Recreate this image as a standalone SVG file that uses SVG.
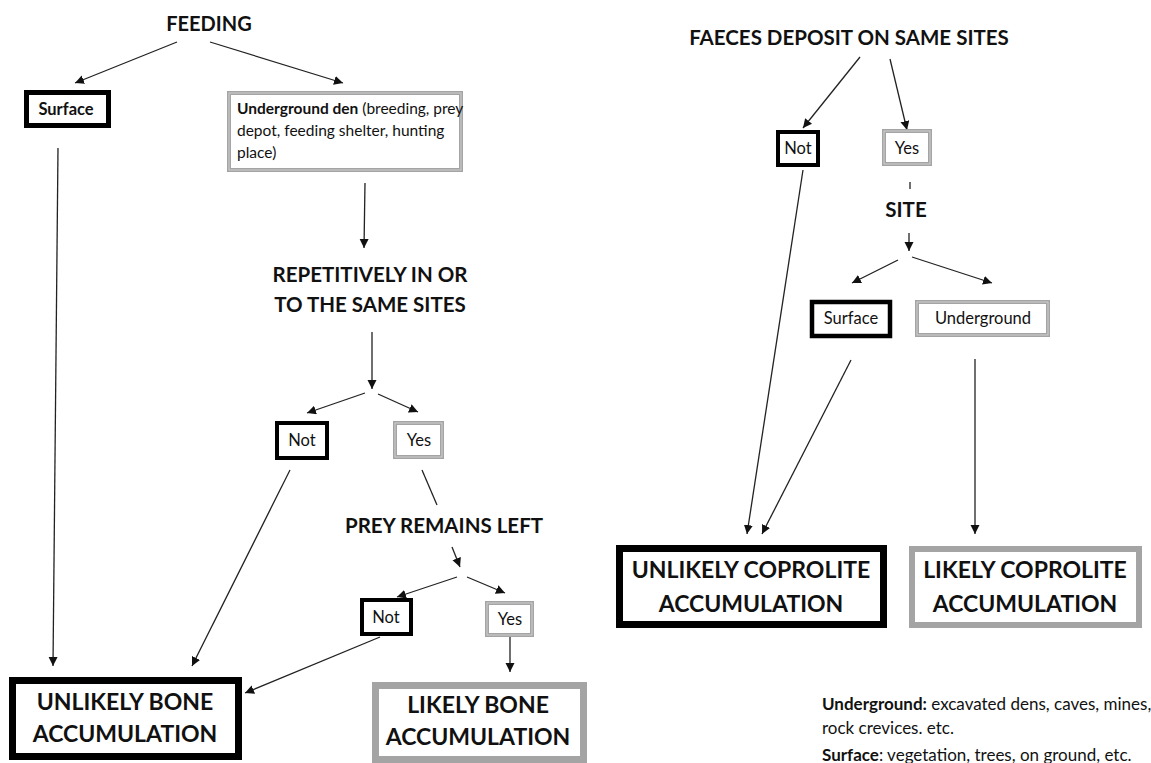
<svg xmlns="http://www.w3.org/2000/svg" width="1151" height="763" viewBox="0 0 1151 763">
<defs>
<marker id="ah" markerUnits="userSpaceOnUse" markerWidth="10" markerHeight="10" refX="9" refY="4.5" orient="auto">
<path d="M0,0 L9,4.5 L0,9 z" fill="#111"/>
</marker>
<style>
text{font-family:Lato,"Liberation Sans",sans-serif;fill:#111}
.b{font-weight:bold}
.big{font-size:23px;font-weight:bold;text-anchor:middle}
.hd{font-size:20.5px;font-weight:bold;text-anchor:middle}
.sm{font-size:16.5px;text-anchor:middle}
.blk{fill:#fff;stroke:#000}
.gry{fill:#fff;stroke:#a4a4a4}
.in{fill:none;stroke:#d0d0d0;stroke-width:1}
#conn line{stroke:#222;stroke-width:1.3}
#conn line.a{marker-end:url(#ah)}
</style>
</defs>
<rect width="1151" height="763" fill="#fff"/>

<g id="conn">
<line class="a" x1="177" y1="42" x2="75" y2="83"/>
<line class="a" x1="210" y1="42" x2="343" y2="83"/>
<line class="a" x1="58" y1="148" x2="53" y2="666"/>
<line class="a" x1="365" y1="183" x2="364" y2="248"/>
<line class="a" x1="372" y1="332" x2="372" y2="389"/>
<line class="a" x1="365" y1="393" x2="307" y2="413"/>
<line class="a" x1="378" y1="394" x2="418" y2="412"/>
<line class="a" x1="290" y1="470" x2="192" y2="666"/>
<line x1="422" y1="470" x2="437" y2="505"/>
<line class="a" x1="452" y1="547" x2="460" y2="567"/>
<line class="a" x1="457" y1="577" x2="397" y2="597"/>
<line class="a" x1="467" y1="577" x2="505" y2="593"/>
<line class="a" x1="380" y1="637" x2="245" y2="693"/>
<line class="a" x1="510" y1="637" x2="510" y2="672"/>
<line class="a" x1="860" y1="57" x2="803" y2="128"/>
<line class="a" x1="890" y1="59" x2="907" y2="130"/>
<line x1="910" y1="182" x2="910" y2="189"/>
<line class="a" x1="909" y1="233" x2="909" y2="251"/>
<line class="a" x1="898" y1="260" x2="852" y2="283"/>
<line class="a" x1="912" y1="257" x2="992" y2="283"/>
<line class="a" x1="803" y1="170" x2="747" y2="534"/>
<line class="a" x1="851" y1="360" x2="762" y2="534"/>
<line class="a" x1="975" y1="359" x2="975" y2="534"/>
</g>

<g id="feeding"><text class="hd" x="209" y="31" style="font-size:20px">FEEDING</text></g>

<g id="surface-left">
<rect class="blk" x="26.5" y="92.5" width="82" height="33" stroke-width="5"/>
<text class="b" x="66" y="115" style="font-size:16.5px" text-anchor="middle">Surface</text>
</g>

<g id="underground-den">
<rect class="gry" x="229" y="93" width="232" height="77" stroke-width="4"/>
<rect class="in" x="229" y="93" width="232" height="77"/>
<text x="237" y="114" style="font-size:15.5px"><tspan class="b">Underground den</tspan> (breeding, prey</text>
<text x="237" y="136" style="font-size:15.5px">depot,  feeding shelter, hunting</text>
<text x="237" y="158" style="font-size:15.5px">place)</text>
</g>

<g id="repetitively">
<text class="hd" x="370" y="282">REPETITIVELY IN OR</text>
<text class="hd" x="370" y="312">TO THE SAME SITES</text>
</g>

<g id="not1">
<rect class="blk" x="277" y="423" width="50" height="35" stroke-width="4"/>
<text class="sm" x="302" y="446">Not</text>
</g>
<g id="yes1">
<rect class="gry" x="395" y="423" width="47" height="34" stroke-width="4"/>
<rect class="in" x="395" y="423" width="47" height="34"/>
<text class="sm" x="419" y="446">Yes</text>
</g>

<g id="prey-remains"><text class="hd" x="444" y="533">PREY REMAINS LEFT</text></g>

<g id="not2">
<rect class="blk" x="362" y="600" width="49" height="34" stroke-width="4"/>
<text class="sm" x="386" y="623">Not</text>
</g>
<g id="yes2">
<rect class="gry" x="487" y="603" width="45" height="32" stroke-width="4"/>
<rect class="in" x="487" y="603" width="45" height="32"/>
<text class="sm" x="510" y="625">Yes</text>
</g>

<g id="unlikely-bone">
<rect class="blk" x="12.5" y="680.5" width="226" height="76" stroke-width="7"/>
<text class="big" x="125" y="710">UNLIKELY BONE</text>
<text class="big" x="125" y="742">ACCUMULATION</text>
</g>
<g id="likely-bone">
<rect class="gry" x="375.5" y="685.5" width="208" height="74" stroke-width="7"/>
<text class="big" x="478" y="713">LIKELY BONE</text>
<text class="big" x="478" y="745">ACCUMULATION</text>
</g>

<g id="faeces"><text class="hd" x="849" y="45">FAECES DEPOSIT ON SAME SITES</text></g>

<g id="not3">
<rect class="blk" x="778" y="132" width="40" height="33" stroke-width="4"/>
<text class="sm" x="798" y="154">Not</text>
</g>
<g id="yes3">
<rect class="gry" x="884" y="131" width="46" height="33" stroke-width="4"/>
<rect class="in" x="884" y="131" width="46" height="33"/>
<text class="sm" x="907" y="154">Yes</text>
</g>

<g id="site"><text class="hd" x="906" y="217">SITE</text></g>

<g id="surface-right">
<rect class="blk" x="812" y="302" width="78" height="34" stroke-width="4.5"/>
<text class="sm" x="851" y="324">Surface</text>
</g>
<g id="underground-right">
<rect class="gry" x="917" y="302" width="131" height="33" stroke-width="4"/>
<rect class="in" x="917" y="302" width="131" height="33"/>
<text class="sm" x="983" y="324">Underground</text>
</g>

<g id="unlikely-coprolite">
<rect class="blk" x="619.5" y="548.5" width="264" height="76" stroke-width="7"/>
<text class="big" x="751" y="578">UNLIKELY COPROLITE</text>
<text class="big" x="751" y="612">ACCUMULATION</text>
</g>
<g id="likely-coprolite">
<rect class="gry" x="912" y="549" width="227" height="76" stroke-width="6"/>
<text class="big" x="1025" y="578">LIKELY COPROLITE</text>
<text class="big" x="1025" y="612">ACCUMULATION</text>
</g>

<g id="legend" style="font-size:17px">
<text x="822" y="710"><tspan class="b">Underground:</tspan> excavated dens, caves, mines,</text>
<text x="822" y="734">rock crevices. etc.</text>
<text x="822" y="761"><tspan class="b">Surface</tspan>: vegetation, trees, on ground, etc.</text>
</g>
</svg>
